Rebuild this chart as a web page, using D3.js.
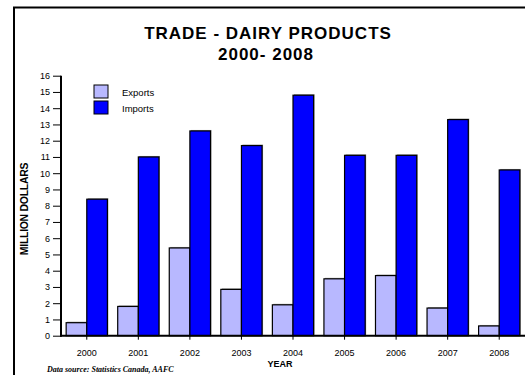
<!DOCTYPE html>
<html>
<head>
<meta charset="utf-8">
<script src="https://cdn.jsdelivr.net/npm/d3@7"></script>
<style>
  html, body { margin: 0; padding: 0; background: #fff; }
  svg { display: block; font-family: "Liberation Sans", Arial, sans-serif; }
</style>
</head>
<body>
<svg id="chart" width="525" height="375"></svg>
<script>
// Trade in dairy products, million dollars
const years = ["2000", "2001", "2002", "2003", "2004", "2005", "2006", "2007", "2008"];
const exportsValues = [0.8, 1.8, 5.4, 2.85, 1.9, 3.5, 3.7, 1.7, 0.6];
const importsValues = [8.4, 11.0, 12.6, 11.7, 14.8, 11.1, 11.1, 13.3, 10.2];
const seriesNames = ["Exports", "Imports"];
const seriesColors = ["#b8b8ff", "#0000ff"];
const yTicks = d3.range(0, 17);

const sans = '"Liberation Sans", Arial, sans-serif';
const serif = '"Liberation Serif", "Times New Roman", serif';

const svg = d3.select("#chart");

// outer frame (left and top edges)
svg.append("path")
  .attr("d", "M14,375 L14,7.5 L525,7.5")
  .attr("fill", "none").attr("stroke", "#000").attr("stroke-width", 2);

// titles
svg.append("text").attr("x", 268).attr("y", 38.5).attr("text-anchor", "middle")
  .style("font-family", sans).attr("font-size", 17).attr("font-weight", "bold").attr("letter-spacing", 1)
  .text("TRADE - DAIRY PRODUCTS");
svg.append("text").attr("x", 266).attr("y", 59.5).attr("text-anchor", "middle")
  .style("font-family", sans).attr("font-size", 17).attr("font-weight", "bold").attr("letter-spacing", 1)
  .text("2000- 2008");

const x0 = d3.scaleBand().domain(years).range([61, 525]).paddingInner(0.2).paddingOuter(0.1);
const x1 = d3.scaleBand().domain(seriesNames).range([0, x0.bandwidth()]);
const y = d3.scaleLinear().domain([0, 16]).range([335.7, 75.7]);

// bars
const rows = years.map((yr, i) => ({ year: yr, values: [exportsValues[i], importsValues[i]] }));
const groups = svg.append("g").selectAll("g").data(rows).join("g")
  .attr("transform", d => `translate(${x0(d.year)},0)`);
// faint shadow on bar edges
groups.selectAll("rect.shadow").data(d => d.values.map((v, k) => ({ v, k })))
  .join("rect").attr("class", "shadow")
  .attr("x", d => x1(seriesNames[d.k]) + 1)
  .attr("y", d => y(d.v) - 1)
  .attr("width", x1.bandwidth())
  .attr("height", d => y(0) - y(d.v))
  .attr("fill", "#999");
groups.selectAll("rect.bar").data(d => d.values.map((v, k) => ({ v, k })))
  .join("rect").attr("class", "bar")
  .attr("x", d => x1(seriesNames[d.k]))
  .attr("y", d => y(d.v))
  .attr("width", x1.bandwidth())
  .attr("height", d => y(0) - y(d.v))
  .attr("fill", d => seriesColors[d.k])
  .attr("stroke", "#000").attr("stroke-width", 1.2);

// y axis
const yAxis = svg.append("g").attr("transform", "translate(61,0)")
  .call(d3.axisLeft(y).tickValues(yTicks).tickSize(8).tickPadding(3).tickSizeOuter(0));
yAxis.select(".domain").attr("stroke-width", 2).attr("d", `M0,${y(16)}V${y(0) + 1}`);
yAxis.selectAll(".tick line").attr("stroke-width", 1);
yAxis.selectAll(".tick text").attr("font-size", 9).attr("font-family", sans).attr("fill", "#000");

// x axis
const xAxis = svg.append("g").attr("transform", `translate(0,${y(0)})`)
  .call(d3.axisBottom(x0).tickSize(4).tickPadding(10).tickSizeOuter(0));
xAxis.select(".domain").attr("stroke-width", 2).attr("d", "M60,0H525");
xAxis.selectAll(".tick text").attr("font-size", 9).attr("font-family", sans).attr("fill", "#000");

// axis titles
svg.append("text").attr("transform", "translate(28,209) rotate(-90)")
  .attr("text-anchor", "middle").style("font-family", sans).attr("font-size", 10.5).attr("font-weight", "bold")
  .attr("letter-spacing", -0.3)
  .text("MILLION DOLLARS");
svg.append("text").attr("x", 280).attr("y", 367).attr("text-anchor", "middle")
  .style("font-family", sans).attr("font-size", 9).attr("font-weight", "bold").text("YEAR");

// source note
svg.append("text").attr("x", 47).attr("y", 372)
  .style("font-family", serif)
  .attr("font-size", 8).attr("font-weight", "bold").attr("font-style", "italic")
  .text("Data source: Statistics Canada, AAFC");

// legend
const legend = svg.append("g").selectAll("g").data(seriesNames).join("g")
  .attr("transform", (d, i) => `translate(94,${85 + i * 16})`);
legend.append("rect").attr("width", 14).attr("height", 13)
  .attr("fill", (d, i) => seriesColors[i]).attr("stroke", "#000").attr("stroke-width", 1);
legend.append("text").attr("x", 28).attr("y", 11).style("font-family", sans).attr("font-size", 9.5).text(d => d);
</script>
</body>
</html>
